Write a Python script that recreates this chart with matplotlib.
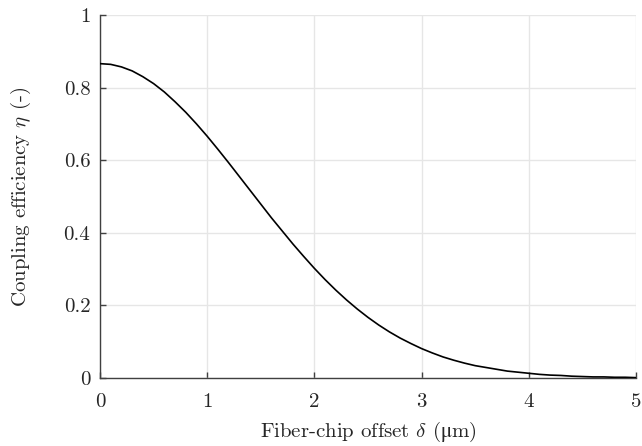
import numpy as np
import matplotlib
matplotlib.use("Agg")
import matplotlib.pyplot as plt

plt.rcParams.update({
    "font.family": ["cmr10", "DejaVu Serif"],
    "mathtext.fontset": "cm",
    "axes.formatter.use_mathtext": True,
    "font.size": 15,
})

# fiber-chip lateral offset (um) and coupling efficiency
offset = np.round(np.arange(0, 5.01, 0.1), 1)
eta = [0.866, 0.864, 0.857, 0.846, 0.830, 0.811, 0.788, 0.761, 0.732, 0.700,
       0.666, 0.630, 0.593, 0.555, 0.517, 0.479, 0.441, 0.405, 0.369, 0.335,
       0.302, 0.271, 0.242, 0.215, 0.190, 0.167, 0.146, 0.127, 0.110, 0.095,
       0.081, 0.069, 0.058, 0.049, 0.041, 0.034, 0.029, 0.024, 0.019, 0.016,
       0.013, 0.010, 0.008, 0.007, 0.005, 0.004, 0.003, 0.003, 0.002, 0.002,
       0.001]

xticks = [0, 1, 2, 3, 4, 5]
yticks = [0, 0.2, 0.4, 0.6, 0.8, 1]
ytick_labels = ["0", "0.2", "0.4", "0.6", "0.8", "1"]

fig = plt.figure(figsize=(6.42, 4.46), dpi=100)
ax = fig.add_axes([100 / 642, 68 / 446, 536 / 642, 363 / 446])

ax.plot(offset, eta, color="black", lw=1.2, zorder=3)

ax.set_xlim(0, 5)
ax.set_ylim(0, 1)
ax.set_xticks(xticks)
ax.set_xticklabels([str(t) for t in xticks])
ax.set_yticks(yticks)
ax.set_yticklabels(ytick_labels)

ax.grid(True, color="#e6e6e6", lw=1.0, zorder=0)
ax.set_axisbelow(True)
for side in ("top", "right"):
    ax.spines[side].set_visible(False)
for side in ("left", "bottom"):
    ax.spines[side].set_color("#404040")
    ax.spines[side].set_linewidth(1.0)
ax.tick_params(direction="in", length=4, width=1.0, color="#404040",
               labelcolor="#262626")
ax.tick_params(axis="x", pad=11)
ax.tick_params(axis="y", pad=7)

# cmr10 has no upright mu; the greek code point falls back to STIX
ax.set_xlabel("Fiber-chip offset $\\delta$ ($\\mathrm{\u03bc}$m)",
              color="#262626", labelpad=6)
ax.set_ylabel(r"Coupling efficiency $\eta$ (-)", color="#262626",
              labelpad=22)

fig.savefig("out.png", dpi=100)
